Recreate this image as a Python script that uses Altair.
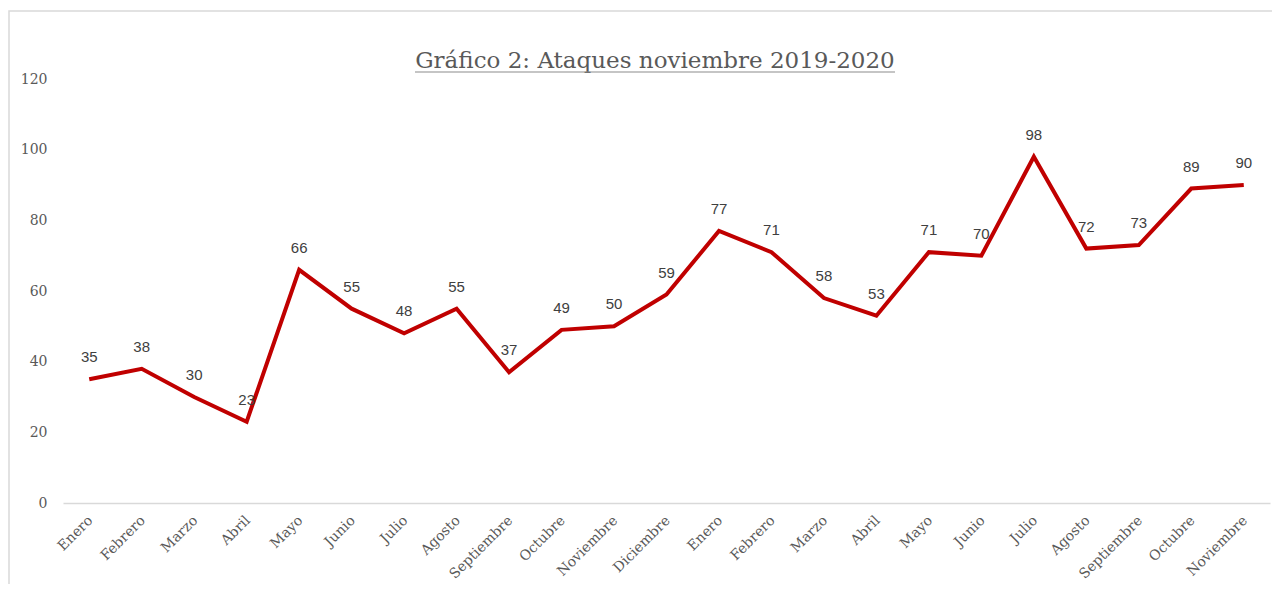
import json
import altair as alt
import pandas as pd

months = ["Enero", "Febrero", "Marzo", "Abril", "Mayo", "Junio", "Julio", "Agosto",
          "Septiembre", "Octubre", "Noviembre", "Diciembre", "Enero", "Febrero",
          "Marzo", "Abril", "Mayo", "Junio", "Julio", "Agosto", "Septiembre",
          "Octubre", "Noviembre"]
attacks = [35, 38, 30, 23, 66, 55, 48, 55, 37, 49, 50, 59, 77, 71, 58, 53, 71, 70,
           98, 72, 73, 89, 90]
y_ticks = [0, 20, 40, 60, 80, 100, 120]
title_text = "Gráfico 2: Ataques noviembre 2019-2020"

df = pd.DataFrame({"idx": list(range(len(months))), "mes": months, "ataques": attacks})

W, H = 1207, 424
SERIF = "DejaVu Serif"
GREY = "#595959"

label_expr = json.dumps(months) + "[datum.value]"

x_enc = alt.X("idx:O", title=None,
              axis=alt.Axis(labelExpr=label_expr, labelAngle=-45, labelFont=SERIF,
                            labelFontSize=14, labelColor=GREY, labelPadding=10,
                            labelOffset=-4,
                            ticks=False, domainColor="#d9d9d9", domainWidth=1.5,
                            labelOverlap=False))
y_enc = alt.Y("ataques:Q", title=None,
              scale=alt.Scale(domain=[0, 120], nice=False),
              axis=alt.Axis(values=y_ticks, grid=False, domain=False, ticks=False,
                            labelFont=SERIF, labelFontSize=14, labelColor=GREY,
                            labelPadding=16))

base = alt.Chart(df)

line = base.mark_line(color="#C00000", strokeWidth=4).encode(x=x_enc, y=y_enc)
labels = base.mark_text(font="Liberation Sans", fontSize=15, color="#404040",
                        dy=-17, baseline="alphabetic").encode(
    x="idx:O", y="ataques:Q", text="ataques:Q")

one = pd.DataFrame({"a": [0]})

frame = alt.Chart(one).mark_rect(
    filled=False, stroke="#d9d9d9", strokeWidth=1.5).encode(
    x=alt.value(-54), x2=alt.value(W + 40), y=alt.value(-68), y2=alt.value(H + 200))

title = alt.Chart(one).mark_text(
    font=SERIF, fontSize=23, color=GREY, align="center", baseline="alphabetic").encode(
    x=alt.value(592), y=alt.value(-11), text=alt.datum(title_text))

underline = alt.Chart(one).mark_rule(
    color="#8c8c8c", strokeWidth=1.2).encode(
    x=alt.value(352), x2=alt.value(832), y=alt.value(-7))

chart = alt.layer(frame, line, labels, title, underline).properties(
    width=W, height=H,
    padding={"left": 55, "top": 71, "right": 2, "bottom": 81},
    autosize="none",
).configure_view(stroke=None)

chart.save("out.html", embed_options={"renderer": "svg", "actions": False})
